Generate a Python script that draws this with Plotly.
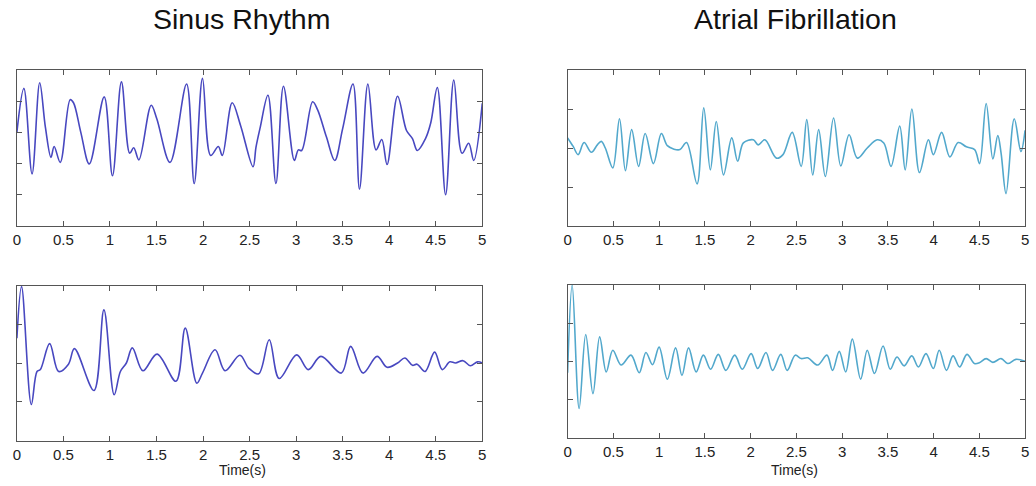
import plotly.graph_objects as go
from plotly.subplots import make_subplots

# ---- Data ----
sr_top_t = [0.0, 0.075, 0.163, 0.245, 0.306, 0.366, 0.40, 0.466, 0.572, 0.608, 0.686, 0.778,
            0.938, 1.027, 1.123, 1.212, 1.255, 1.311, 1.443, 1.503, 1.645, 1.823, 1.905, 1.994,
            2.082, 2.164, 2.207, 2.313, 2.402, 2.537, 2.569, 2.615, 2.697, 2.783, 2.864, 2.981,
            3.024, 3.06, 3.177, 3.23, 3.326, 3.415, 3.50, 3.611, 3.681, 3.771, 3.859, 3.92,
            3.977, 4.09, 4.186, 4.25, 4.303, 4.39, 4.446, 4.517, 4.606, 4.694, 4.783, 4.854,
            4.908, 5.0]
sr_top_v = [1.01, 2.41, -0.33, 2.59, 1.17, 0.20, 0.55, 0.04, 2.05, 1.95, 1.01, -0.01,
            2.14, -0.39, 2.62, 0.33, 0.51, 0.12, 1.87, 1.44, 0.04, 2.55, -0.64, 2.73,
            0.26, 0.55, 0.26, 1.95, 1.23, -0.10, 0.53, 1.17, 2.19, -0.64, 2.48, 0.10,
            0.44, 0.42, 1.98, 1.73, 0.85, 0.10, 1.12, 2.55, -0.82, 2.55, 0.44, 0.77,
            -0.03, 2.16, 1.06, 0.80, 0.42, 0.80, 1.30, 2.44, -1.00, 2.68, 0.33, 0.65,
            0.10, 1.93]

sr_bot_t = [0.0, 0.05, 0.155, 0.216, 0.252, 0.352, 0.448, 0.554, 0.618, 0.828, 0.935, 1.045,
            1.112, 1.176, 1.240, 1.354, 1.506, 1.709, 1.809, 1.933, 1.994, 2.129, 2.236, 2.396,
            2.49, 2.597, 2.711, 2.818, 3.006, 3.131, 3.266, 3.486, 3.586, 3.718, 3.870, 3.977,
            4.09, 4.168, 4.25, 4.30, 4.385, 4.488, 4.57, 4.652, 4.712, 4.794, 4.872, 4.95, 5.0]
sr_bot_v = [0.64, 1.97, -1.07, -0.22, -0.17, 0.50, -0.22, -0.03, 0.37, -0.71, 1.37, -0.82,
            -0.22, 0.0, 0.39, -0.20, 0.23, -0.47, 0.90, -0.52, -0.26, 0.34, -0.20, 0.20,
            -0.13, -0.28, 0.60, -0.40, 0.21, -0.17, 0.17, -0.26, 0.43, -0.26, 0.17, -0.11,
            0.0, 0.13, -0.06, -0.03, -0.22, 0.28, -0.17, 0.03, 0.0, 0.06, -0.07, 0.03, 0.0]

af_top_t = [0.0, 0.061, 0.115, 0.18, 0.26, 0.325, 0.368, 0.412, 0.494, 0.567, 0.632, 0.70,
            0.776, 0.848, 0.938, 1.025, 1.09, 1.163, 1.228, 1.30, 1.415, 1.488, 1.56, 1.625,
            1.704, 1.794, 1.859, 1.921, 2.03, 2.083, 2.156, 2.282, 2.354, 2.455, 2.553, 2.614,
            2.679, 2.744, 2.817, 2.907, 2.986, 3.077, 3.167, 3.275, 3.384, 3.456, 3.535, 3.630,
            3.69, 3.763, 3.846, 3.944, 3.998, 4.088, 4.178, 4.269, 4.359, 4.449, 4.503, 4.575,
            4.648, 4.702, 4.738, 4.792, 4.882, 4.955, 5.0]
af_top_v = [0.26, 0.04, -0.17, 0.14, -0.11, 0.08, 0.17, 0.0, -0.51, 0.75, -0.58, 0.47,
            -0.47, 0.37, -0.40, 0.37, 0.06, -0.03, -0.04, 0.14, -0.92, 1.03, -0.56, 0.68,
            -0.69, 0.26, -0.34, 0.13, 0.21, 0.08, 0.21, -0.26, -0.17, 0.40, -0.47, 0.73,
            -0.69, 0.47, -0.73, 0.77, -0.46, 0.34, -0.26, 0.0, 0.21, 0.13, -0.47, 0.56,
            -0.56, 1.00, -0.63, 0.21, -0.17, 0.40, -0.23, 0.14, 0.03, -0.04, -0.40, 1.14,
            -0.28, 0.32, -0.13, -1.17, 0.75, -0.09, 0.45]

af_bot_t = [0.0, 0.05, 0.126, 0.198, 0.277, 0.35, 0.422, 0.494, 0.585, 0.693, 0.783, 0.856,
            0.928, 1.0, 1.09, 1.18, 1.25, 1.322, 1.405, 1.484, 1.563, 1.647, 1.73, 1.827,
            1.909, 2.006, 2.078, 2.168, 2.24, 2.33, 2.40, 2.488, 2.553, 2.625, 2.733, 2.834,
            2.896, 2.969, 3.04, 3.112, 3.203, 3.275, 3.354, 3.448, 3.527, 3.6, 3.679, 3.762,
            3.834, 3.917, 3.997, 4.062, 4.141, 4.213, 4.285, 4.365, 4.447, 4.50, 4.575, 4.648,
            4.738, 4.81, 4.90, 5.0]
af_bot_v = [-0.30, 2.0, -1.24, 0.70, -0.85, 0.64, -0.28, 0.29, -0.10, 0.16, -0.30, 0.23,
            -0.09, 0.37, -0.47, 0.35, -0.37, 0.35, -0.28, 0.16, -0.21, 0.18, -0.24, 0.16,
            -0.21, 0.20, -0.19, 0.23, -0.24, 0.18, -0.24, 0.16, 0.07, 0.09, -0.10, 0.16,
            -0.24, 0.26, -0.28, 0.58, -0.47, 0.29, -0.32, 0.40, -0.21, 0.11, -0.12, 0.14,
            -0.15, 0.20, -0.19, 0.29, -0.24, 0.14, -0.15, 0.18, -0.06, -0.04, 0.07, -0.03,
            0.07, -0.06, 0.05, 0.0]

titles = ["Sinus Rhythm", "Atrial Fibrillation"]
xlabel = "Time(s)"
x_ticks = [0, 0.5, 1, 1.5, 2, 2.5, 3, 3.5, 4, 4.5, 5]

SR_COLOR = "#4848c0"
AF_COLOR = "#52a8cc"
FRAME = "#555555"
FONT = "Liberation Sans, Arial"

fig = make_subplots(rows=2, cols=2)

traces = [
    (sr_top_t, sr_top_v, SR_COLOR, 1, 1),
    (af_top_t, af_top_v, AF_COLOR, 1, 2),
    (sr_bot_t, sr_bot_v, SR_COLOR, 2, 1),
    (af_bot_t, af_bot_v, AF_COLOR, 2, 2),
]
for t, v, c, r, col in traces:
    fig.add_trace(go.Scatter(x=t, y=v, mode="lines",
                             line=dict(color=c, width=1.6, shape="spline", smoothing=1.0),
                             showlegend=False), row=r, col=col)

W, H = 1036, 486
domains = {
    (1, 1): ([13 / W, 482 / W], [1 - 226 / H, 1 - 70 / H]),
    (1, 2): ([568 / W, 1029 / W], [1 - 226 / H, 1 - 70 / H]),
    (2, 1): ([13 / W, 482 / W], [1 - 440.5 / H, 1 - 285.5 / H]),
    (2, 2): ([568 / W, 1029 / W], [1 - 437.5 / H, 1 - 285 / H]),
}
yranges = {(1, 1): [-2, 3], (1, 2): [-2, 2], (2, 1): [-2, 2], (2, 2): [-2, 2]}
yticks = {(1, 1): [-1, 0, 1, 2], (1, 2): [-1, 0, 1], (2, 1): [-1, 0, 1], (2, 2): [-1, 0, 1]}

for (r, c), (xd, yd) in domains.items():
    fig.update_xaxes(domain=xd, range=[0, 5], tickvals=x_ticks, ticks="inside", ticklen=5,
                     tickcolor=FRAME, showline=True, linecolor=FRAME, linewidth=1, mirror="ticks",
                     showgrid=False, zeroline=False,
                     tickfont=dict(family=FONT, size=15, color="#222222"),
                     row=r, col=c)
    fig.update_yaxes(domain=yd, range=yranges[(r, c)], tickvals=yticks[(r, c)], ticks="inside",
                     ticklen=5, tickcolor=FRAME, showticklabels=False, showline=True,
                     linecolor=FRAME, linewidth=1, mirror="ticks", showgrid=False, zeroline=False,
                     row=r, col=c)

def ann(text, px, py, size, color):
    return dict(text=text, x=px / W, y=1 - py / H, xref="paper", yref="paper",
                xanchor="center", yanchor="middle", showarrow=False,
                font=dict(family=FONT, size=size, color=color))

annotations = [
    ann(titles[0], 239, 19, 28.5, "#111111"),
    ann(titles[1], 798, 19, 28.5, "#111111"),
    ann(xlabel, 240, 470, 14, "#222222"),
    ann(xlabel, 797, 470, 14, "#222222"),
]

fig.update_layout(width=W, height=H, margin=dict(l=0, r=0, t=0, b=0),
                  paper_bgcolor="white", plot_bgcolor="white", annotations=annotations)

fig.write_html("out.html", config={"displayModeBar": False},
               post_script="document.body.style.margin='0px';")
